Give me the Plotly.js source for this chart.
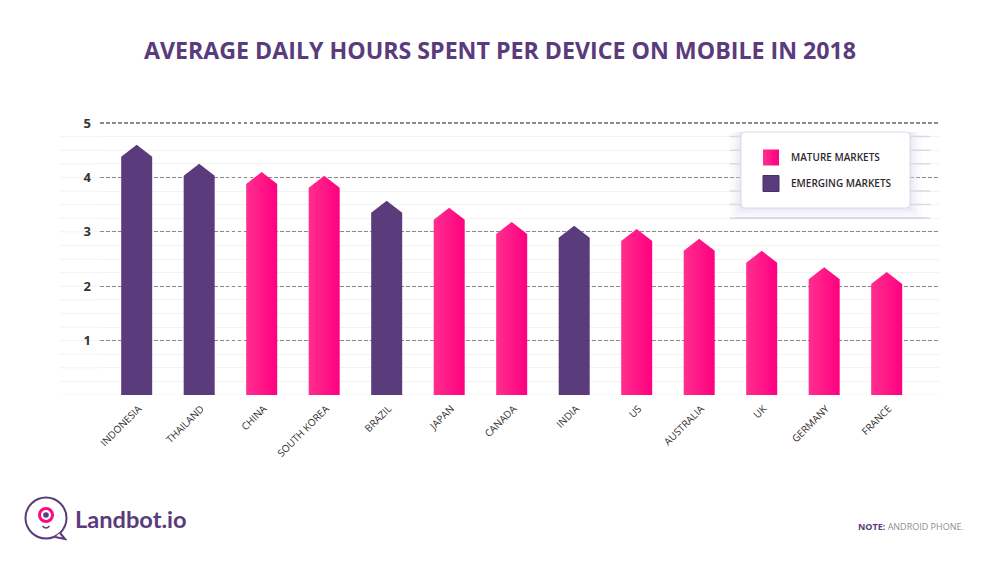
<!DOCTYPE html>
<html><head><meta charset="utf-8">
<script src="https://cdn.plot.ly/plotly-3.0.1.min.js"></script>
<style>html,body{margin:0;padding:0;background:#fff}</style></head>
<body><div id="chart" style="width:1000px;height:562px"></div>
<script>
const categories = ["INDONESIA","THAILAND","CHINA","SOUTH KOREA","BRAZIL","JAPAN","CANADA","INDIA","US","AUSTRALIA","UK","GERMANY","FRANCE"];
const hours = [4.6,4.25,4.1,4.03,3.57,3.44,3.18,3.11,3.05,2.87,2.65,2.35,2.26];
const groups = ["E","E","M","M","E","M","M","E","M","M","M","M","M"];
const groupNames = {M:"MATURE MARKETS",E:"EMERGING MARKETS"};
const yTicks = [1,2,3,4,5];
const minorTicks = [0,0.25,0.5,0.75,1,1.25,1.5,1.75,2,2.25,2.5,2.75,3,3.25,3.5,3.75,4,4.25,4.5,4.75];
const PURPLE="#5a3b7b", PINK="#ff0080", PINK_L="#ff2f8e";
const halfW=0.248, head=0.22;
const L=100,R=940,T=120,B=395;
const xp=p=>(p-L)/(R-L), yp=p=>(B-p)/(B-T);

const traces = categories.map((c,i)=>{
  const v=hours[i], pink=groups[i]==="M";
  const t={type:"scatter",mode:"lines",x:[i-halfW,i-halfW,i,i+halfW,i+halfW,i-halfW],
    y:[0,v-head,v,v-head,0,0],fill:"toself",line:{width:0,color:pink?PINK:PURPLE},
    showlegend:false,name:c,text:c,hoverinfo:"text+y",cliponaxis:false};
  if(pink){t.fillgradient={type:"horizontal",colorscale:[[0,PINK_L],[1,PINK]]};}
  else{t.fillcolor=PURPLE;}
  return t;
});
["M","E"].forEach(g=>traces.push({type:"scatter",mode:"markers",x:[null],y:[null],
  name:groupNames[g],legendgroup:g,showlegend:true,
  marker:{symbol:"square",size:16,color:g==="M"?PINK_L:PURPLE,
    gradient:g==="M"?{type:"horizontal",color:PINK}:undefined,line:{width:g==="E"?1:0,color:"#4a2f68"}}}));

const shapes=[];
const box=(x0,y0,x1,y1,o)=>Object.assign({type:"rect",xref:"paper",yref:"paper",x0:xp(x0),x1:xp(x1),y0:yp(y1),y1:yp(y0)},o);
minorTicks.forEach(v=>{
  shapes.push({type:"line",xref:"paper",yref:"y",x0:xp(60),x1:v===0?1:xp(100),y0:v,y1:v,layer:"below",
    line:{color:"#f3f2f4",width:1}});
});
const raised=[4.75,4.5,4.25,3.75,3.5,3.25];
raised.forEach(v=>shapes.push({type:"line",xref:"paper",yref:"y",x0:xp(730),x1:xp(930),y0:v,y1:v,layer:"above",
  line:{color:"#dcd7e6",width:1.5}}));
shapes.push(box(735,217,925,218.5,{layer:"above",line:{width:0},fillcolor:"#dcd7e6"}));
[[12,0.10],[8,0.14],[5,0.2],[2.5,0.3]].forEach(([d,o])=>shapes.push(box(741-d,132,910+d,208+d,{layer:"above",line:{width:0},fillcolor:"rgba(225,220,235,"+o+")"})));
const cx0=xp(741),cx1=xp(910),cy0=yp(208),cy1=yp(132),rx=4/(R-L),ry=4/(B-T);
shapes.push({type:"path",xref:"paper",yref:"paper",layer:"above",fillcolor:"#fff",line:{color:"#ddd8e6",width:1},
  path:`M${cx0+rx},${cy0} L${cx1-rx},${cy0} Q${cx1},${cy0} ${cx1},${cy0+ry} L${cx1},${cy1-ry} Q${cx1},${cy1} ${cx1-rx},${cy1} L${cx0+rx},${cy1} Q${cx0},${cy1} ${cx0},${cy1-ry} L${cx0},${cy0+ry} Q${cx0},${cy0} ${cx0+rx},${cy0} Z`});
const circ=(cx,cy,r,o)=>Object.assign({type:"circle",xref:"paper",yref:"paper",x0:xp(cx-r),x1:xp(cx+r),y0:yp(cy+r),y1:yp(cy-r)},o);
shapes.push(circ(46,518,20.5,{line:{color:PURPLE,width:2},fillcolor:"#fff"}));
const P=(x,y)=>xp(x)+","+yp(y);
shapes.push({type:"path",xref:"paper",yref:"paper",fillcolor:"#fff",line:{color:PURPLE,width:2},
  path:`M${P(60,533)} L${P(65,539)} L${P(55,537)}`});
shapes.push(circ(46,515,6.5,{line:{color:"#ff0a82",width:3},fillcolor:"#fff"}));
shapes.push(circ(46,515,2.8,{line:{width:0},fillcolor:PURPLE}));
shapes.push({type:"path",xref:"paper",yref:"paper",line:{color:PURPLE,width:1.3},
  path:`M${P(42.5,526)} Q${P(46,530)} ${P(49.5,526)}`});

const layout={
  width:1000,height:562,paper_bgcolor:"#fff",plot_bgcolor:"#fff",
  margin:{l:L,r:1000-R,t:T,b:562-B,pad:0},
  font:{family:"'Open Sans',sans-serif",color:"#2f2a2d"},
  title:{text:"AVERAGE DAILY HOURS SPENT PER DEVICE ON MOBILE IN 2018",x:xp(500),xref:"paper",xanchor:"center",y:0.909,yanchor:"middle",
    font:{family:"'Open Sans',sans-serif",size:23.2,weight:700,color:PURPLE}},
  xaxis:{type:"linear",range:[-0.587,12.853],tickmode:"array",tickvals:categories.map((c,i)=>i),ticktext:categories,
    tickangle:-45,tickfont:{size:10,color:"#2f2a2d"},showgrid:false,zeroline:false,showline:false,ticks:"",ticklen:0,
    ticklabelstandoff:5,ticklabelshift:2,fixedrange:true},
  yaxis:{range:[0,5+3/54.4],tickmode:"array",tickvals:yTicks,ticktext:yTicks.map(String),
    tickfont:{size:13,weight:700,color:"#3a3035"},showgrid:true,gridcolor:"#8a8a8a",griddash:"3.5px,2.5px",gridwidth:1.3,
    zeroline:false,showline:false,ticks:"",ticklabelstandoff:8,fixedrange:true,layer:"below traces",
    minor:{tickmode:"array",tickvals:minorTicks.slice(1),showgrid:true,gridcolor:"#f3f2f4",gridwidth:1,griddash:"solid",ticks:""}},
  legend:{x:xp(751),y:yp(143),xanchor:"left",yanchor:"top",bgcolor:"rgba(0,0,0,0)",borderwidth:0,
    font:{size:10,weight:600,color:"#2f2a2d"},tracegroupgap:7,itemwidth:30,traceorder:"grouped"},
  annotations:[
    {xref:"paper",yref:"paper",x:xp(73),y:yp(519),xanchor:"left",yanchor:"middle",showarrow:false,
     text:"Landbot.io",font:{family:"Lato,sans-serif",size:23.6,weight:700,color:PURPLE}},
    {xref:"paper",yref:"paper",x:xp(966),y:yp(526),xanchor:"right",yanchor:"middle",showarrow:false,
     text:"<b style='color:"+PURPLE+"'>NOTE:</b> ANDROID PHONE.",font:{size:9,color:"#8f8f8f"}}
  ],
  shapes
};
Plotly.newPlot("chart",traces,layout,{displayModeBar:false,staticPlot:true});
</script></body></html>
